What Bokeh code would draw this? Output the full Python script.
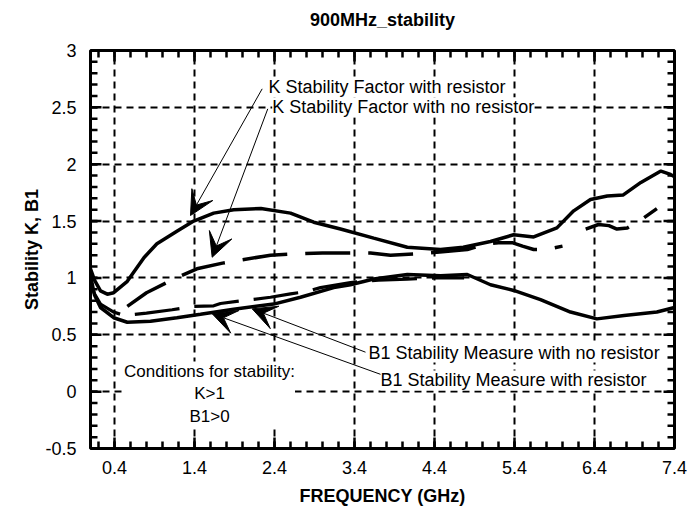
from bokeh.plotting import figure
from bokeh.models import Range1d, FixedTicker, LinearAxis, Label, Arrow, VeeHead
from bokeh.embed import file_html
from bokeh.resources import INLINE

TITLE = "900MHz_stability"
XLABEL = "FREQUENCY (GHz)"
YLABEL = "Stability K, B1"

x_ticks = [0.4, 1.4, 2.4, 3.4, 4.4, 5.4, 6.4, 7.4]
y_ticks = [-0.5, 0, 0.5, 1, 1.5, 2, 2.5, 3]
y_tick_labels = ["-0.5", "0", "0.5", "1", "1.5", "2", "2.5", "3"]
x_minor = [round(0.2 + 0.2 * i, 2) for i in range(37)]
y_minor = [round(-0.5 + 0.1 * i, 2) for i in range(36)]

# K stability factor with resistor (solid)
k_res_x = [0.1, 0.15, 0.225, 0.31, 0.39, 0.56, 0.77, 0.93, 1.18, 1.39, 1.64, 1.89, 2.23, 2.6, 2.89,
           3.225, 3.64, 4.06, 4.475, 4.76, 5.1, 5.39, 5.64, 5.93, 6.14, 6.35, 6.56, 6.76, 6.98, 7.23, 7.35, 7.4]
k_res_y = [1.08, 0.98, 0.886, 0.857, 0.87, 0.97, 1.18, 1.30, 1.41, 1.50, 1.57, 1.60, 1.61, 1.57, 1.49,
           1.43, 1.35, 1.27, 1.25, 1.27, 1.32, 1.38, 1.36, 1.44, 1.59, 1.69, 1.72, 1.73, 1.84, 1.94, 1.91, 1.89]

# K stability factor with no resistor (dashed)
k_nores_x = [0.56, 0.8, 1.14, 1.43, 1.75, 2.0, 2.35, 2.64, 3.0, 3.35, 3.6, 3.85, 4.14, 4.5, 4.81, 5.06,
             5.2, 5.37, 5.5, 5.64, 5.8, 6.0, float("nan"), 6.29, 6.45, 6.58, 6.68, 6.81, 6.98, 7.18]
k_nores_y = [0.75, 0.87, 0.99, 1.08, 1.13, 1.16, 1.20, 1.21, 1.22, 1.22, 1.22, 1.20, 1.21, 1.23, 1.25, 1.30,
             1.31, 1.31, 1.28, 1.25, 1.25, 1.28, float("nan"), 1.43, 1.47, 1.46, 1.43, 1.44, 1.51, 1.61]

# B1 stability measure with resistor (solid)
b1_res_x = [0.1, 0.15, 0.225, 0.39, 0.56, 0.85, 1.18, 1.475, 1.89, 2.39, 2.725, 3.14, 3.35, 3.64, 4.06,
            4.475, 4.81, 5.1, 5.39, 5.725, 6.1, 6.43, 6.77, 7.18, 7.4]
b1_res_y = [1.02, 0.85, 0.74, 0.65, 0.61, 0.62, 0.65, 0.68, 0.725, 0.77, 0.83, 0.915, 0.94, 0.99, 1.03,
            1.02, 1.03, 0.94, 0.89, 0.81, 0.70, 0.64, 0.67, 0.70, 0.74]

# B1 stability measure with no resistor (dashed)
b1_nores_x = [0.1, 0.15, 0.225, 0.39, 0.52, 0.8, 1.12, 1.39, 1.64, 1.725, 2.0, 2.35, 2.6, 2.8, 2.975,
              3.35, 3.7, 4.06, 4.4, 4.77]
b1_nores_y = [0.95, 0.86, 0.77, 0.70, 0.67, 0.69, 0.72, 0.75, 0.755, 0.775, 0.80, 0.83, 0.86, 0.88, 0.915,
              0.96, 0.98, 0.99, 1.0, 1.0]

FONT = "Liberation Sans"
X0, X1 = 0.1, 7.4
Y0, Y1 = -0.5, 3.0
W, H = 688, 510
BL, BR, BT, BB = 90, 14, 50, 62
FRAME_W, FRAME_H = W - BL - BR, H - BT - BB

p = figure(width=W, height=H, x_range=Range1d(X0, X1), y_range=Range1d(Y0, Y1),
           output_backend="svg", toolbar_location=None,
           min_border_left=BL, min_border_right=BR, min_border_top=BT, min_border_bottom=BB)

p.outline_line_color = "black"
p.outline_line_width = 3
p.background_fill_color = "white"
p.border_fill_color = "white"


def style_axis(ax):
    ax.axis_line_color = None
    ax.major_tick_in = 0
    ax.major_tick_out = 0
    ax.minor_tick_in = 0
    ax.minor_tick_out = 0
    ax.major_label_text_font = FONT
    ax.major_label_text_font_size = "18px"
    ax.major_label_text_color = "black"
    ax.axis_label_text_font = FONT
    ax.axis_label_text_font_size = "18px"
    ax.axis_label_text_font_style = "bold"
    ax.axis_label_text_color = "black"


xa = p.xaxis[0]
xa.ticker = FixedTicker(ticks=x_ticks)
xa.axis_label = XLABEL
style_axis(xa)
xa.major_label_standoff = 12
xa.axis_label_standoff = 9

ya = p.yaxis[0]
ya.ticker = FixedTicker(ticks=y_ticks)
ya.axis_label = YLABEL
ya.major_label_overrides = {t: s for t, s in zip(y_ticks, y_tick_labels)}
style_axis(ya)
ya.major_label_standoff = 14
ya.axis_label_standoff = 0

# chart title, carried by a tick-less axis above the frame
top = LinearAxis(ticker=FixedTicker(ticks=[]), axis_label=TITLE)
style_axis(top)
top.major_label_standoff = 0
top.axis_label_standoff = 21
p.add_layout(top, "above")

p.xgrid.ticker = FixedTicker(ticks=x_ticks[:-1])
p.ygrid.ticker = FixedTicker(ticks=y_ticks[1:-1])
for g in (p.xgrid[0], p.ygrid[0]):
    g.grid_line_color = "black"
    g.grid_line_width = 2
    g.grid_line_dash = "7 5"

# inward tick marks on all four sides: small filled bars sized in screen pixels,
# centred just inside each frame edge
dx = (X1 - X0) / FRAME_W
dy = (Y1 - Y0) / FRAME_H
tx, ty, tw, th = [], [], [], []

def edge_ticks(vals, horizontal_edge, length):
    if horizontal_edge:
        for v in vals:
            if X0 < v < X1:
                for yc in (Y0 + length / 2 * dy, Y1 - length / 2 * dy):
                    tx.append(v); ty.append(yc); tw.append(2.5); th.append(length)
    else:
        for v in vals:
            if Y0 < v < Y1:
                for xc in (X0 + length / 2 * dx, X1 - length / 2 * dx):
                    tx.append(xc); ty.append(v); tw.append(length); th.append(2.5)

edge_ticks(x_minor, True, 7)
edge_ticks(x_ticks, True, 11)
edge_ticks(y_minor, False, 7)
edge_ticks(y_ticks, False, 11)
p.rect(x=tx, y=ty, width=tw, height=th, width_units="screen", height_units="screen",
       fill_color="black", line_color=None)

p.line(k_res_x, k_res_y, line_color="black", line_width=3.5)
p.line(b1_res_x, b1_res_y, line_color="black", line_width=3.5)
p.line(k_nores_x, k_nores_y, line_color="black", line_width=3.5, line_dash="45 18")
p.line(b1_nores_x, b1_nores_y, line_color="black", line_width=3.2, line_dash="45 15")

arrows = [
    (2.246, 2.663, 1.35, 1.549),
    (2.316, 2.487, 1.621, 1.182),
    (3.5375, 0.347, 2.121, 0.728),
    (3.766, 0.142, 1.621, 0.685),
]
for xs_, ys_, xe, ye in arrows:
    p.add_layout(Arrow(x_start=xs_, y_start=ys_, x_end=xe, y_end=ye, line_width=1, line_color="black",
                       end=VeeHead(size=24, line_color="black", fill_color="black", line_width=1)))

def add_label(x, y, text, align="left", size="18px"):
    p.add_layout(Label(x=x, y=y, text=text, text_font=FONT, text_font_size=size, text_color="black",
                       text_align=align, text_baseline="middle", background_fill_color="white",
                       background_fill_alpha=1.0))

add_label(2.325, 2.677, "K Stability Factor with resistor")
add_label(2.371, 2.501, "K Stability Factor with no resistor")
add_label(3.575, 0.344, "B1 Stability Measure with no resistor")
add_label(3.725, 0.098, "B1 Stability Measure with  resistor")
add_label(1.5875, -0.02, "Conditions for stability:\nK>1\nB1>0", align="center", size="17px")

open("out.html", "w").write(file_html(p, INLINE))
